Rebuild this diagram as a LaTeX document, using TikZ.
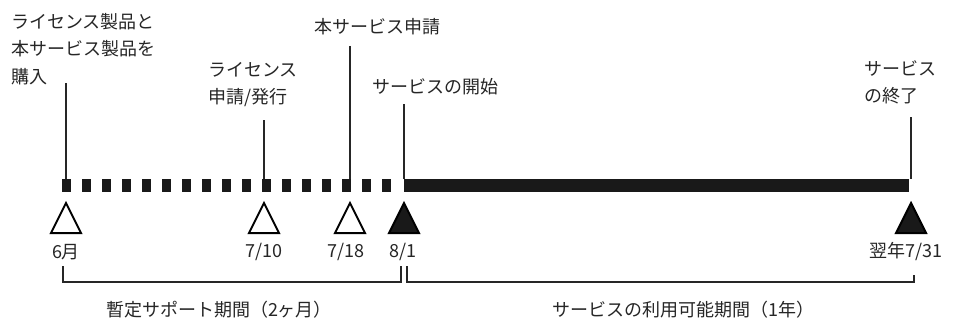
\documentclass[tikz,border=0pt]{standalone}
\usepackage{fontspec}
\setmainfont{Noto Sans CJK JP}
\usetikzlibrary{positioning}

\tikzset{
  lbl/.style={font=\fontsize{18}{27.5}\selectfont, inner sep=0pt, align=left, text=black!85},
  stem/.style={line width=2.6pt, black!85},
  thickbar/.style={line width=13pt, black!90},
  opentri/.style={draw, line width=2pt, fill=white, line join=miter},
  shuttri/.style={draw, line width=2pt, fill=black!90, line join=miter},
  bracket/.style={line width=2pt, black!85},
}

\begin{document}
\begin{tikzpicture}[x=1pt, y=-1pt]
  \useasboundingbox (0,0) rectangle (955,321);

  % points on the time bar
  \coordinate (p1) at (66,185);
  \coordinate (p2) at (264,185);
  \coordinate (p3) at (350,185);
  \coordinate (p4) at (404,185);
  \coordinate (p5) at (911,185);

  % event texts
  \node [lbl, anchor=north west] (l1) at (11,13) {ライセンス製品と\\本サービス製品を\\購入};
  \node [lbl, anchor=north west] (l2) at (208,62) {ライセンス\\申請/発行};
  \node [lbl, anchor=north west] (l3) at (314,18) {本サービス申請};
  \node [lbl, anchor=north west] (l4) at (372,78) {サービスの開始};
  \node [lbl, anchor=north west] (l5) at (864,60) {サービス\\の終了};

  % bar
  \draw [thickbar, dash pattern=on 9pt off 11pt] (62,185) -- (393,185);
  \draw [thickbar] (p4) -- (909,185);

  % stems
  \draw [stem] (p1 |- 0,83) -- ([yshift=6.5pt]p1);
  \draw [stem] ([yshift=-13pt]l2.south -| p2) -- ([yshift=6.5pt]p2);
  \draw [stem] ([yshift=-11pt]l3.south -| p3) -- ([yshift=6.5pt]p3);
  \draw [stem] ([yshift=-9pt]l4.south -| p4) -- ([yshift=6.5pt]p4);
  \draw [stem] ([yshift=-13pt]l5.south -| p5) -- ([yshift=6.5pt]p5);

  % milestones
  \coordinate [below=18pt of p1] (a1);
  \coordinate [below=18pt of p2] (a2);
  \coordinate [below=18pt of p3] (a3);
  \coordinate [below=18pt of p4] (a4);
  \coordinate [below=18pt of p5] (a5);
  \draw [opentri] (a1) -- ++(15,30) -- ++(-30,0) -- cycle;
  \draw [opentri] (a2) -- ++(15,30) -- ++(-30,0) -- cycle;
  \draw [opentri] (a3) -- ++(15,30) -- ++(-30,0) -- cycle;
  \draw [shuttri] (a4) -- ++(15,30) -- ++(-30,0) -- cycle;
  \draw [shuttri] (a5) -- ++(15,30) -- ++(-30,0) -- cycle;

  % dates
  \node [lbl] (d1) at (66,252) {6月};
  \node [lbl] (d2) at (264,252) {7/10};
  \node [lbl] (d3) at (346,252) {7/18};
  \node [lbl] (d4) at (403,252) {8/1};
  \node [lbl, anchor=east] (d5) at (943,252) {翌年7/31};

  % periods
  \coordinate (q1) at (63,266);
  \coordinate (q2) at (401,266);
  \coordinate (q3) at (407,266);
  \coordinate (q4) at (914,275);
  \draw [bracket] (q1) -- ++(0,16) -| (q2);
  \draw [bracket] (q3) -- ++(0,16) -| (q4);
  \node [lbl] (t1) at (219,310) {暫定サポート期間（2ヶ月）};
  \node [lbl] (t2) at (683,310) {サービスの利用可能期間（1年）};
\end{tikzpicture}
\end{document}
